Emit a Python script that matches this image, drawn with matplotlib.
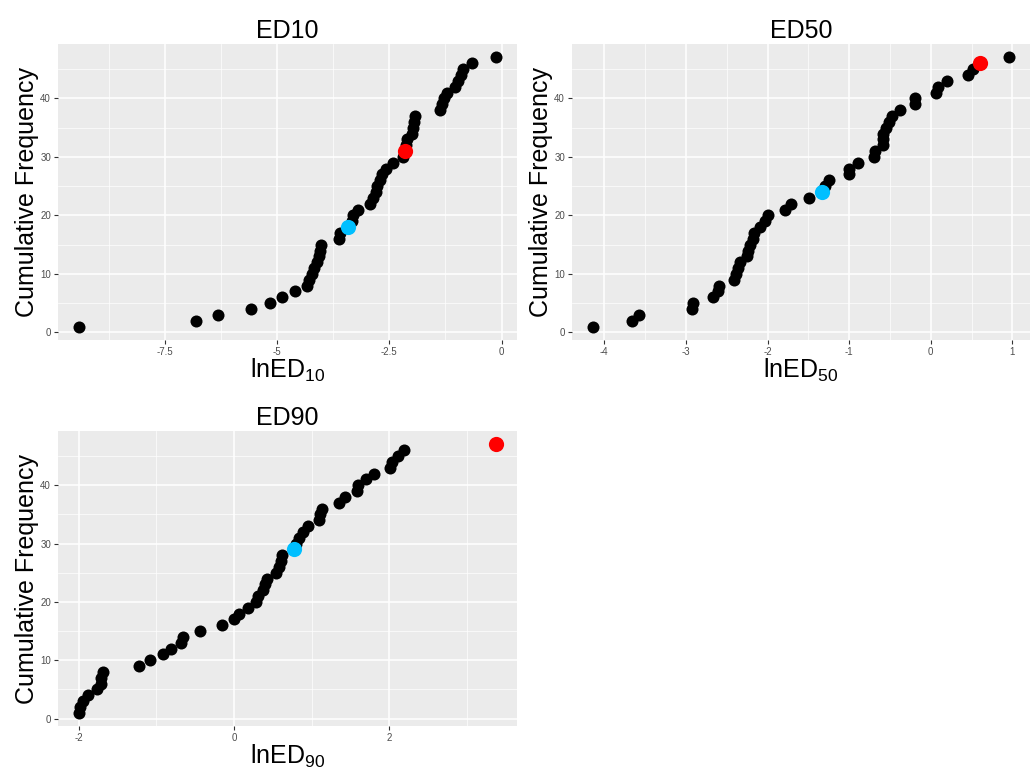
import numpy as np
import matplotlib.pyplot as plt

plt.rcParams['font.family'] = ['Liberation Sans', 'DejaVu Sans']
plt.rcParams['mathtext.fontset'] = 'custom'
plt.rcParams['mathtext.rm'] = 'Liberation Sans'
plt.rcParams['mathtext.default'] = 'regular'

# valori (ordinati, frequenza cumulata 1..47)
ed10 = [-9.42, -6.80, -6.31, -5.58, -5.15, -4.89, -4.60, -4.34, -4.29, -4.23,
        -4.18, -4.12, -4.07, -4.05, -4.03, -3.62, -3.59, -3.43, -3.33, -3.30,
        -3.19, -2.93, -2.86, -2.80, -2.77, -2.71, -2.66, -2.58, -2.41, -2.19,
        -2.16, -2.13, -2.10, -2.00, -1.98, -1.95, -1.93, -1.37, -1.32, -1.28,
        -1.22, -1.03, -0.96, -0.91, -0.85, -0.65, -0.12]
ed50 = [-4.14, -3.66, -3.58, -2.92, -2.91, -2.67, -2.61, -2.60, -2.41, -2.39,
        -2.36, -2.34, -2.25, -2.24, -2.21, -2.18, -2.16, -2.09, -2.03, -1.99,
        -1.79, -1.71, -1.49, -1.33, -1.30, -1.25, -1.00, -1.00, -0.89, -0.69,
        -0.68, -0.59, -0.58, -0.58, -0.55, -0.51, -0.47, -0.38, -0.19, -0.19,
        0.06, 0.09, 0.20, 0.45, 0.52, 0.60, 0.96]
ed90 = [-2.00, -1.98, -1.95, -1.88, -1.77, -1.72, -1.71, -1.69, -1.22, -1.08,
        -0.92, -0.81, -0.68, -0.66, -0.44, -0.15, 0.00, 0.07, 0.18, 0.29,
        0.31, 0.37, 0.40, 0.43, 0.54, 0.58, 0.60, 0.62, 0.77, 0.80,
        0.84, 0.89, 0.95, 1.10, 1.11, 1.14, 1.36, 1.43, 1.59, 1.60,
        1.70, 1.80, 2.01, 2.04, 2.12, 2.19, 3.38]

# posizione (frequenza) dei punti evidenziati
blu = {'ED10': 18, 'ED50': 24, 'ED90': 29}
rosso = {'ED10': 31, 'ED50': 46, 'ED90': 47}

xticks = {'ED10': [-7.5, -5, -2.5, 0], 'ED50': [-4, -3, -2, -1, 0, 1], 'ED90': [-2, 0, 2]}
xlabels = {'ED10': ['-7.5', '-5', '-2.5', '0'], 'ED50': ['-4', '-3', '-2', '-1', '0', '1'],
           'ED90': ['-2', '0', '2']}
yticks = [0, 10, 20, 30, 40]

dati = {'ED10': ed10, 'ED50': ed50, 'ED90': ed90}
pos = {'ED10': [58/1033, 0.5584, 459/1033, 0.3844],
       'ED50': [572/1033, 0.5584, 458/1033, 0.3844],
       'ED90': [58/1033, 0.0568, 459/1033, 0.3835]}

fig = plt.figure(figsize=(10.33, 7.7), dpi=100)

for nome in ['ED10', 'ED50', 'ED90']:
    x = np.array(dati[nome])
    y = np.arange(1, len(x) + 1)
    ax = fig.add_axes(pos[nome])
    ax.set_facecolor('#EBEBEB')
    for s in ax.spines.values():
        s.set_visible(False)
    xt = xticks[nome]
    passo = xt[1] - xt[0]
    minx = [t + passo/2 for t in [xt[0] - passo] + xt]
    ax.set_xticks(xt)
    ax.set_xticklabels(xlabels[nome])
    ax.set_xticks(minx, minor=True)
    ax.set_yticks(yticks)
    ax.set_yticks([5, 15, 25, 35, 45], minor=True)
    # limiti con espansione 5% come ggplot (dopo i tick)
    dx = (x.max() - x.min()) * 0.05
    ax.set_xlim(x.min() - dx, x.max() + dx)
    ax.set_ylim(1 - 46*0.05, 47 + 46*0.05)
    ax.grid(True, which='major', color='white', lw=1.1)
    ax.grid(True, which='minor', color='white', lw=0.5)
    ax.set_axisbelow(True)
    ax.tick_params(which='major', length=3, width=0.8, color='#333333',
                   labelsize=7, labelcolor='#4D4D4D', pad=2)
    ax.tick_params(which='minor', length=0)
    ax.scatter(x, y, s=75, color='black', zorder=3, linewidths=0)
    b = blu[nome] - 1
    r = rosso[nome] - 1
    ax.scatter(x[b], y[b], s=120, color='#00BFFF', zorder=4, linewidths=0)
    ax.scatter(x[r], y[r], s=120, color='#FF0000', zorder=4, linewidths=0)
    ax.set_title(nome, fontsize=18, pad=4)
    ax.set_xlabel('lnED$_{' + nome[2:] + '}$', fontsize=18, labelpad=0)
    ax.set_ylabel('Cumulative Frequency', fontsize=18, labelpad=1)

plt.savefig('out.png', dpi=100)
